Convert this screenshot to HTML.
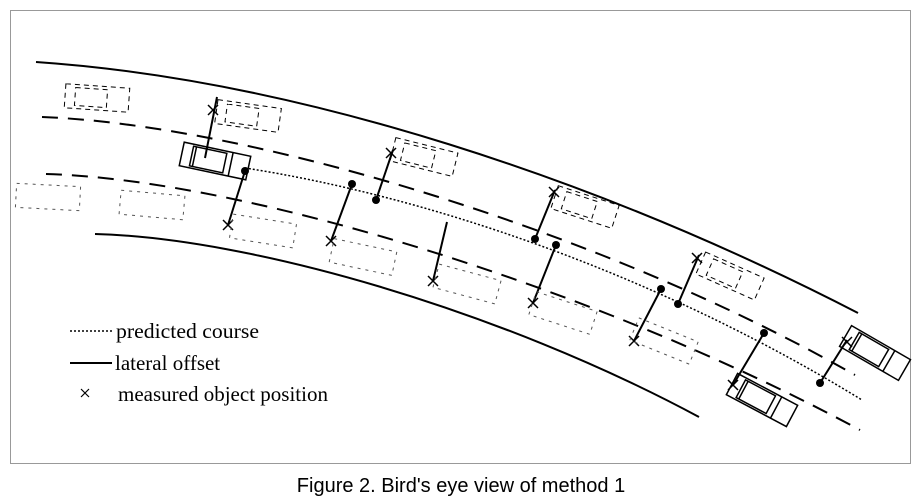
<!DOCTYPE html>
<html><head><style>
body{margin:0;background:#fff;width:922px;height:496px;overflow:hidden}
svg{display:block}
</style></head><body>
<svg width="922" height="496" xmlns="http://www.w3.org/2000/svg">
<rect x="10.5" y="10.5" width="900" height="453" fill="none" stroke="#999" stroke-width="1"/>
<g fill="none" stroke="#000">
<path d="M36,62 C300,80 600,180 858,313" stroke-width="2"/>
<path d="M95,234 C250,238 500,310 699,417" stroke-width="2"/>
<path d="M42,117 C250,125 600,230 855,375" stroke-width="2" stroke-dasharray="16,10"/>
<path d="M46,174 C250,180 600,290 860,430" stroke-width="2" stroke-dasharray="16,10"/>
<path d="M245,168 C420,195 650,270 862,400" stroke-width="1.5" stroke-dasharray="2,2"/>
</g>
<g stroke="#000" stroke-width="2">
<line x1="217" y1="97" x2="205" y2="158"/>
<line x1="245" y1="171" x2="228" y2="225"/>
<line x1="352" y1="184" x2="331" y2="241"/>
<line x1="376" y1="200" x2="393" y2="150"/>
<line x1="447" y1="222" x2="433" y2="281"/>
<line x1="535" y1="239" x2="555" y2="190"/>
<line x1="556" y1="245" x2="533" y2="303"/>
<line x1="661" y1="289" x2="634" y2="341"/>
<line x1="678" y1="304" x2="699" y2="255"/>
<line x1="764" y1="333" x2="733" y2="385"/>
<line x1="820" y1="383" x2="847" y2="340"/>
</g>
<g fill="#000">
<circle cx="245" cy="171" r="4"/><circle cx="352" cy="184" r="4"/><circle cx="376" cy="200" r="4"/>
<circle cx="535" cy="239" r="4"/><circle cx="556" cy="245" r="4"/><circle cx="661" cy="289" r="4"/>
<circle cx="678" cy="304" r="4"/><circle cx="764" cy="333" r="4"/><circle cx="820" cy="383" r="4"/>
</g>
<g stroke="#000" stroke-width="1.5">
<path d="M208,105l10,10M218,105l-10,10"/>
<path d="M223,220l10,10M233,220l-10,10"/>
<path d="M326,236l10,10M336,236l-10,10"/>
<path d="M386,148l10,10M396,148l-10,10"/>
<path d="M428,276l10,10M438,276l-10,10"/>
<path d="M549,187l10,10M559,187l-10,10"/>
<path d="M528,298l10,10M538,298l-10,10"/>
<path d="M629,336l10,10M639,336l-10,10"/>
<path d="M692,253l10,10M702,253l-10,10"/>
<path d="M728,380l10,10M738,380l-10,10"/>
<path d="M842,337l10,10M852,337l-10,10"/>
</g>
<g fill="none" stroke="#000" stroke-width="1.5">
<g transform="translate(215,161) rotate(12)"><rect x="-34" y="-12" width="68" height="24"/><rect x="-24" y="-10" width="34" height="20"/><line x1="-21" y1="-10" x2="-21" y2="10"/><line x1="16" y1="-12" x2="16" y2="12"/></g>
<g transform="translate(762,400) rotate(28)"><rect x="-34" y="-12" width="68" height="24"/><rect x="-24" y="-10" width="34" height="20"/><line x1="-21" y1="-10" x2="-21" y2="10"/><line x1="16" y1="-12" x2="16" y2="12"/></g>
<g transform="translate(875,353) rotate(30)"><rect x="-34" y="-12" width="68" height="24"/><rect x="-24" y="-10" width="34" height="20"/><line x1="-21" y1="-10" x2="-21" y2="10"/><line x1="16" y1="-12" x2="16" y2="12"/></g>
</g>
<g fill="none" stroke="#000" stroke-width="1" stroke-dasharray="5,4">
<g transform="translate(97,98) rotate(4)"><rect x="-32" y="-12" width="64" height="24"/><rect x="-22" y="-9" width="32" height="18"/></g>
<g transform="translate(248,116) rotate(8)"><rect x="-32" y="-12" width="64" height="24"/><rect x="-22" y="-9" width="32" height="18"/></g>
<g transform="translate(424,157) rotate(14)"><rect x="-32" y="-12" width="64" height="24"/><rect x="-22" y="-9" width="32" height="18"/></g>
<g transform="translate(585,207) rotate(18)"><rect x="-32" y="-12" width="64" height="24"/><rect x="-22" y="-9" width="32" height="18"/></g>
<g transform="translate(730,276) rotate(24)"><rect x="-32" y="-12" width="64" height="24"/><rect x="-22" y="-9" width="32" height="18"/></g>
</g>
<g fill="none" stroke="#555" stroke-width="1" stroke-dasharray="3,5">
<g transform="translate(48,197) rotate(3)"><rect x="-32" y="-12" width="64" height="24"/></g>
<g transform="translate(152,205) rotate(5)"><rect x="-32" y="-12" width="64" height="24"/></g>
<g transform="translate(263,231) rotate(9)"><rect x="-32" y="-12" width="64" height="24"/></g>
<g transform="translate(363,257) rotate(12)"><rect x="-32" y="-12" width="64" height="24"/></g>
<g transform="translate(467,284) rotate(15)"><rect x="-32" y="-12" width="64" height="24"/></g>
<g transform="translate(563,313) rotate(18)"><rect x="-32" y="-12" width="64" height="24"/></g>
<g transform="translate(664,341) rotate(22)"><rect x="-32" y="-12" width="64" height="24"/></g>
</g>
<line x1="70" y1="331" x2="112" y2="331" stroke="#000" stroke-width="1.5" stroke-dasharray="2,2"/>
<line x1="70" y1="363" x2="112" y2="363" stroke="#000" stroke-width="2"/>
<path d="M81,389l8,8M89,389l-8,8" stroke="#000" stroke-width="1.2"/>
<g font-family="Liberation Serif, serif" font-size="21" fill="#000">
<text x="116" y="338" textLength="143" lengthAdjust="spacingAndGlyphs">predicted course</text>
<text x="115" y="370">lateral offset</text>
<text x="118" y="401">measured object position</text>
</g>
<text x="461" y="492" text-anchor="middle" font-family="Liberation Sans, sans-serif" font-size="20" fill="#000">Figure 2.  Bird's eye view of method 1</text>
</svg>
</body></html>
